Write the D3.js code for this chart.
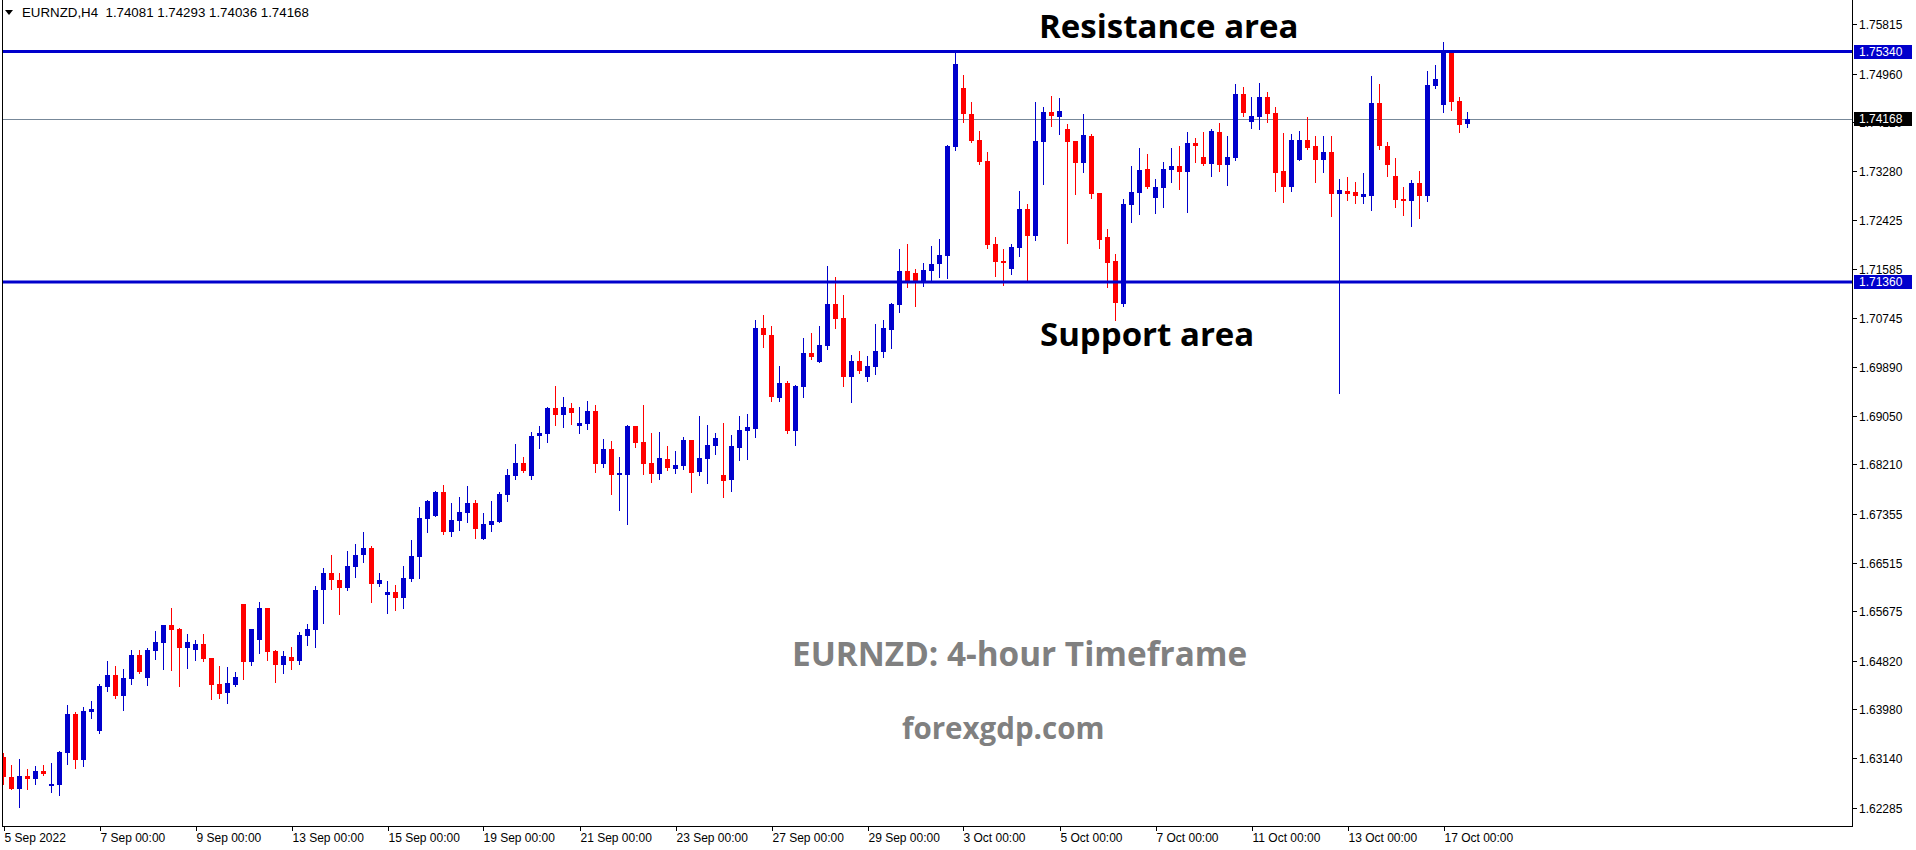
<!DOCTYPE html>
<html><head><meta charset="utf-8">
<script src="https://cdn.jsdelivr.net/npm/d3@7"></script>
<style>html,body{margin:0;padding:0;background:#fff;overflow:hidden}</style>
</head><body>
<svg id="chart" width="1916" height="850"></svg>
<script>
const headerLabel = "EURNZD,H4";
const lastOHLC = [1.74081, 1.74293, 1.74036, 1.74168];

const open = [1.63157,1.62812,1.62605,1.62829,1.62778,1.62916,1.62656,1.62674,1.63226,1.63900,
1.63105,1.63934,1.63606,1.64366,1.64573,1.64210,1.64504,1.64919,1.64521,1.64988,
1.65125,1.65437,1.65368,1.65039,1.65005,1.65108,1.64867,1.64418,1.64262,1.64401,
1.65799,1.64797,1.65177,1.65730,1.64988,1.64746,1.64884,1.64815,1.65246,1.65350,
1.66041,1.66334,1.66214,1.66076,1.66438,1.66646,1.66766,1.66145,1.65955,1.66006,
1.65903,1.66231,1.66611,1.67267,1.67318,1.67733,1.67042,1.67233,1.67370,1.67543,
1.66922,1.67164,1.67215,1.67682,1.68009,1.68234,1.68009,1.68700,1.68735,1.69184,
1.69063,1.69184,1.68872,1.68907,1.69132,1.68217,1.68476,1.68027,1.68027,1.68872,
1.68596,1.68234,1.68044,1.68303,1.68131,1.68182,1.68631,1.68078,1.68303,1.68527,
1.68027,1.67940,1.68493,1.68787,1.68821,1.70565,1.70445,1.69356,1.69615,1.68787,
1.69546,1.70133,1.69977,1.70254,1.70980,1.70738,1.69719,1.69995,1.69719,1.69891,
1.70150,1.70531,1.70963,1.71550,1.71515,1.71359,1.71550,1.71670,1.71808,1.73690,
1.74710,1.74261,1.73811,1.73449,1.72016,1.71722,1.71584,1.71947,1.72620,1.72153,
1.73776,1.74295,1.74209,1.74002,1.73794,1.73414,1.73880,1.72896,1.72136,1.71722,
1.70980,1.72689,1.72896,1.73311,1.72810,1.72983,1.73293,1.73362,1.73258,1.73759,
1.73518,1.73397,1.73949,1.73380,1.73501,1.74606,1.74122,1.74209,1.74554,1.74278,
1.73276,1.73000,1.73466,1.73811,1.73707,1.73466,1.73604,1.72879,1.72931,1.72913,
1.72827,1.72844,1.74450,1.73707,1.73189,1.72793,1.72758,1.73069,1.72844,1.74744,
1.74416,1.75331,1.74485,1.74081];

const high = [1.63226,1.63019,1.63123,1.62950,1.63001,1.63019,1.63053,1.63261,1.64055,1.63934,
1.64020,1.64124,1.64418,1.64815,1.64728,1.64677,1.65005,1.65005,1.65039,1.65333,
1.65437,1.65730,1.65385,1.65281,1.65177,1.65281,1.64867,1.64728,1.64711,1.64624,
1.65799,1.65315,1.65833,1.65730,1.65005,1.64988,1.65056,1.65315,1.65454,1.66110,
1.66421,1.66646,1.66334,1.66715,1.66835,1.67042,1.66800,1.66334,1.66197,1.66128,
1.66455,1.66904,1.67474,1.67595,1.67751,1.67854,1.67543,1.67647,1.67836,1.67595,
1.67370,1.67578,1.67733,1.68131,1.68562,1.68337,1.68769,1.68872,1.69201,1.69563,
1.69373,1.69270,1.69201,1.69305,1.69236,1.68649,1.68614,1.68337,1.68890,1.68872,
1.69236,1.68752,1.68769,1.68527,1.68441,1.68683,1.68631,1.69045,1.68890,1.68752,
1.68924,1.68718,1.69045,1.69080,1.70703,1.70790,1.70599,1.69908,1.69650,1.69581,
1.70393,1.70479,1.70599,1.71635,1.71446,1.71135,1.70099,1.70168,1.70081,1.70634,
1.70703,1.70997,1.71930,1.72016,1.71584,1.71687,1.71981,1.72102,1.73725,1.75331,
1.74934,1.74467,1.73967,1.73604,1.72136,1.71930,1.72016,1.72931,1.72706,1.74467,
1.74381,1.74571,1.74537,1.74088,1.73794,1.74261,1.73915,1.72896,1.72275,1.71843,
1.72793,1.73362,1.73673,1.73570,1.73138,1.73431,1.73673,1.73707,1.73949,1.73846,
1.73949,1.74002,1.74105,1.73880,1.74779,1.74727,1.74554,1.74796,1.74640,1.74381,
1.73932,1.73915,1.73967,1.74209,1.73880,1.73880,1.73880,1.73138,1.73172,1.73086,
1.73241,1.74916,1.74779,1.73776,1.73501,1.73000,1.73121,1.73276,1.75003,1.75107,
1.75503,1.75366,1.74554,1.74293];

const low = [1.62691,1.62605,1.62294,1.62605,1.62691,1.62847,1.62552,1.62501,1.63036,1.62967,
1.63001,1.63831,1.63571,1.64297,1.64176,1.63969,1.64418,1.64607,1.64401,1.64850,
1.64677,1.64659,1.64383,1.64694,1.64832,1.64815,1.64159,1.64176,1.64089,1.64383,
1.64504,1.64746,1.64953,1.64832,1.64452,1.64607,1.64677,1.64763,1.65091,1.65056,
1.65471,1.66059,1.65627,1.66041,1.66265,1.66524,1.65833,1.66110,1.65644,1.65696,
1.65730,1.66197,1.66248,1.67042,1.67318,1.67008,1.66973,1.67077,1.67215,1.66939,
1.66922,1.67060,1.67215,1.67578,1.67958,1.68078,1.67958,1.68493,1.68596,1.68890,
1.68855,1.68907,1.68752,1.68821,1.68078,1.68165,1.67699,1.67422,1.67181,1.68510,
1.68044,1.67905,1.67958,1.68113,1.68061,1.68131,1.67733,1.68027,1.67888,1.68389,
1.67647,1.67751,1.68286,1.68303,1.68683,1.70237,1.69305,1.69305,1.68752,1.68545,
1.69373,1.70030,1.69977,1.70203,1.70565,1.69563,1.69287,1.69788,1.69650,1.69771,
1.70064,1.70220,1.70841,1.71273,1.70945,1.71290,1.71394,1.71446,1.71429,1.73639,
1.74122,1.73776,1.73397,1.71947,1.71463,1.71308,1.71498,1.71808,1.71394,1.72085,
1.73052,1.74053,1.73915,1.72033,1.72879,1.73258,1.72810,1.71947,1.71273,1.70703,
1.70945,1.72395,1.72534,1.72983,1.72551,1.72654,1.73086,1.72966,1.72568,1.73431,
1.73380,1.73189,1.73276,1.73035,1.73466,1.74226,1.74019,1.74002,1.74122,1.72931,
1.72740,1.72931,1.73466,1.73656,1.73086,1.73258,1.72499,1.69442,1.72775,1.72723,
1.72723,1.72603,1.73656,1.73189,1.72654,1.72517,1.72326,1.72465,1.72758,1.74710,
1.74295,1.74330,1.73949,1.74036];

const close = [1.62812,1.62605,1.62829,1.62778,1.62916,1.62864,1.62691,1.63243,1.63900,1.63105,
1.63952,1.63986,1.64383,1.64573,1.64210,1.64521,1.64919,1.64624,1.65005,1.65142,
1.65437,1.65350,1.65039,1.65142,1.65108,1.64850,1.64401,1.64245,1.64435,1.64538,
1.64797,1.65368,1.65730,1.64970,1.64746,1.64901,1.64815,1.65264,1.65368,1.66041,
1.66334,1.66214,1.66076,1.66455,1.66646,1.66766,1.66145,1.66214,1.66006,1.65903,
1.66248,1.66628,1.67284,1.67578,1.67733,1.67042,1.67250,1.67387,1.67543,1.67095,
1.67181,1.67233,1.67699,1.68027,1.68234,1.68096,1.68700,1.68752,1.69184,1.69063,
1.69201,1.69097,1.68924,1.69132,1.68217,1.68476,1.68027,1.68061,1.68872,1.68579,
1.68217,1.68044,1.68320,1.68148,1.68200,1.68631,1.68061,1.68320,1.68545,1.68666,
1.67923,1.68527,1.68804,1.68855,1.70565,1.70445,1.69373,1.69615,1.68787,1.69563,
1.70133,1.70064,1.70272,1.70980,1.70721,1.69719,1.69995,1.69823,1.69908,1.70168,
1.70565,1.70980,1.71550,1.71377,1.71377,1.71567,1.71670,1.71826,1.73707,1.75124,
1.74261,1.73794,1.73431,1.71999,1.71704,1.71687,1.71964,1.72620,1.72153,1.73794,
1.74295,1.74226,1.74313,1.73776,1.73414,1.73898,1.72879,1.72085,1.71687,1.70997,
1.72706,1.72913,1.73293,1.73000,1.73000,1.73311,1.73362,1.73258,1.73759,1.73707,
1.73397,1.73967,1.73380,1.73518,1.74606,1.74278,1.74226,1.74554,1.74261,1.73241,
1.73000,1.73811,1.73811,1.73673,1.73466,1.73604,1.72879,1.72948,1.72879,1.72844,
1.72879,1.74450,1.73707,1.73380,1.72775,1.72758,1.73069,1.72844,1.74762,1.74865,
1.75314,1.74467,1.74071,1.74168];

const priceTicks = [1.75815,1.74960,1.74120,1.73280,1.72425,1.71585,1.70745,1.69890,1.69050,
1.68210,1.67355,1.66515,1.65675,1.64820,1.63980,1.63140,1.62285];
const dateTickIndex = [0,12,24,36,48,60,72,84,96,108,120,132,144,156,168,180];
const dateTickLabels = ["5 Sep 2022","7 Sep 00:00","9 Sep 00:00","13 Sep 00:00","15 Sep 00:00",
"19 Sep 00:00","21 Sep 00:00","23 Sep 00:00","27 Sep 00:00","29 Sep 00:00","3 Oct 00:00",
"5 Oct 00:00","7 Oct 00:00","11 Oct 00:00","13 Oct 00:00","17 Oct 00:00"];
const resistanceLevel = 1.75340;
const supportLevel = 1.71360;
const lastPrice = 1.74168;

const BLUE = "#0000CC", RED = "#FF0000";
const svg = d3.select("#chart");
const plotLeft = 2, plotRight = 1852, plotBottom = 826;

const x = d3.scaleLinear().domain([0, open.length - 1]).range([3.5, 3.5 + 8 * (open.length - 1)]);
const y = d3.scaleLinear().domain([1.62285, 1.75815]).range([807.5, 24]);

svg.append("rect").attr("width", 1916).attr("height", 850).attr("fill", "#fff");

svg.append("defs").append("clipPath").attr("id", "plotclip")
  .append("rect").attr("x", plotLeft + 1).attr("y", 0).attr("width", plotRight - plotLeft - 1).attr("height", plotBottom);

const plot = svg.append("g").attr("clip-path", "url(#plotclip)");
const idx = d3.range(open.length);

// current price line
plot.append("line").attr("x1", plotLeft).attr("x2", plotRight)
  .attr("y1", Math.round(y(lastPrice)) + 0.5).attr("y2", Math.round(y(lastPrice)) + 0.5)
  .attr("stroke", "#778899").attr("stroke-width", 1).attr("shape-rendering", "crispEdges");

const candles = plot.append("g").attr("shape-rendering", "crispEdges");
candles.selectAll("line.wick").data(idx).join("line").attr("class", "wick")
  .attr("x1", i => x(i)).attr("x2", i => x(i))
  .attr("y1", i => y(high[i])).attr("y2", i => y(low[i]) + 1)
  .attr("stroke", i => close[i] >= open[i] ? BLUE : RED).attr("stroke-width", 1);
candles.selectAll("rect.body").data(idx).join("rect").attr("class", "body")
  .attr("x", i => x(i) - 2.5).attr("width", 5)
  .attr("y", i => y(Math.max(open[i], close[i])))
  .attr("height", i => Math.max(1, y(Math.min(open[i], close[i])) - y(Math.max(open[i], close[i]))))
  .attr("fill", i => close[i] >= open[i] ? BLUE : RED);

// support / resistance
[resistanceLevel, supportLevel].forEach(v => {
  plot.append("line").attr("x1", plotLeft).attr("x2", plotRight)
    .attr("y1", y(v)).attr("y2", y(v)).attr("stroke", BLUE).attr("stroke-width", 3);
});

// frame
svg.append("path").attr("d", `M${plotLeft + 0.5},0V${plotBottom + 0.5}H${plotRight + 0.5}V0`)
  .attr("fill", "none").attr("stroke", "#000").attr("stroke-width", 1).attr("shape-rendering", "crispEdges");

const axisFont = "'Liberation Sans', Arial, sans-serif";
// price axis
const pa = svg.append("g");
priceTicks.forEach(v => {
  const yy = Math.round(y(v)) + 0.5;
  pa.append("line").attr("x1", plotRight + 1).attr("x2", plotRight + 5).attr("y1", yy).attr("y2", yy)
    .attr("stroke", "#000").attr("shape-rendering", "crispEdges");
  pa.append("text").attr("x", 1859).attr("y", yy).attr("dy", "0.35em")
    .attr("font-family", axisFont).attr("font-size", 12).attr("fill", "#000").text(v.toFixed(5));
});
function priceBox(v, bg) {
  const yy = y(v);
  pa.append("rect").attr("x", plotRight + 2).attr("y", Math.round(yy) - 7).attr("width", 58).attr("height", 14).attr("fill", bg);
  pa.append("text").attr("x", 1859).attr("y", Math.round(yy)).attr("dy", "0.35em")
    .attr("font-family", axisFont).attr("font-size", 12).attr("fill", "#fff").text(v.toFixed(5));
}
priceBox(resistanceLevel, BLUE);
priceBox(supportLevel, BLUE);
priceBox(lastPrice, "#000");

// time axis
const ta = svg.append("g");
dateTickIndex.forEach((k, j) => {
  const xx = Math.round(x(k)) + 0.5;
  ta.append("line").attr("x1", xx).attr("x2", xx).attr("y1", plotBottom + 1).attr("y2", plotBottom + 5)
    .attr("stroke", "#000").attr("shape-rendering", "crispEdges");
  ta.append("text").attr("x", xx).attr("y", 842)
    .attr("font-family", axisFont).attr("font-size", 12).attr("fill", "#000").text(dateTickLabels[j]);
});

// header
svg.append("path").attr("d", "M5,10H13L9,15Z").attr("fill", "#000");
svg.append("text").attr("x", 22).attr("y", 17).attr("font-family", axisFont).attr("font-size", 13.3)
  .attr("fill", "#000").attr("xml:space", "preserve")
  .text(headerLabel + "  " + lastOHLC.map(d => d.toFixed(5)).join(" "));

// annotations
const annFont = "'Open Sans', 'Noto Sans', sans-serif";
svg.append("text").attr("x", 1039).attr("y", 38).attr("font-family", annFont).attr("font-weight", 700)
  .attr("font-size", 33).attr("fill", "#000").text("Resistance area");
svg.append("text").attr("x", 1040).attr("y", 346).attr("font-family", annFont).attr("font-weight", 700)
  .attr("font-size", 33).attr("fill", "#000").text("Support area");
svg.append("text").attr("x", 792).attr("y", 666).attr("font-family", annFont).attr("font-weight", 700)
  .attr("font-size", 33.3).attr("fill", "#808080").text("EURNZD: 4-hour Timeframe");
svg.append("text").attr("x", 902).attr("y", 739).attr("font-family", annFont).attr("font-weight", 700)
  .attr("font-size", 29.5).attr("fill", "#808080").text("forexgdp.com");
</script>
</body></html>
